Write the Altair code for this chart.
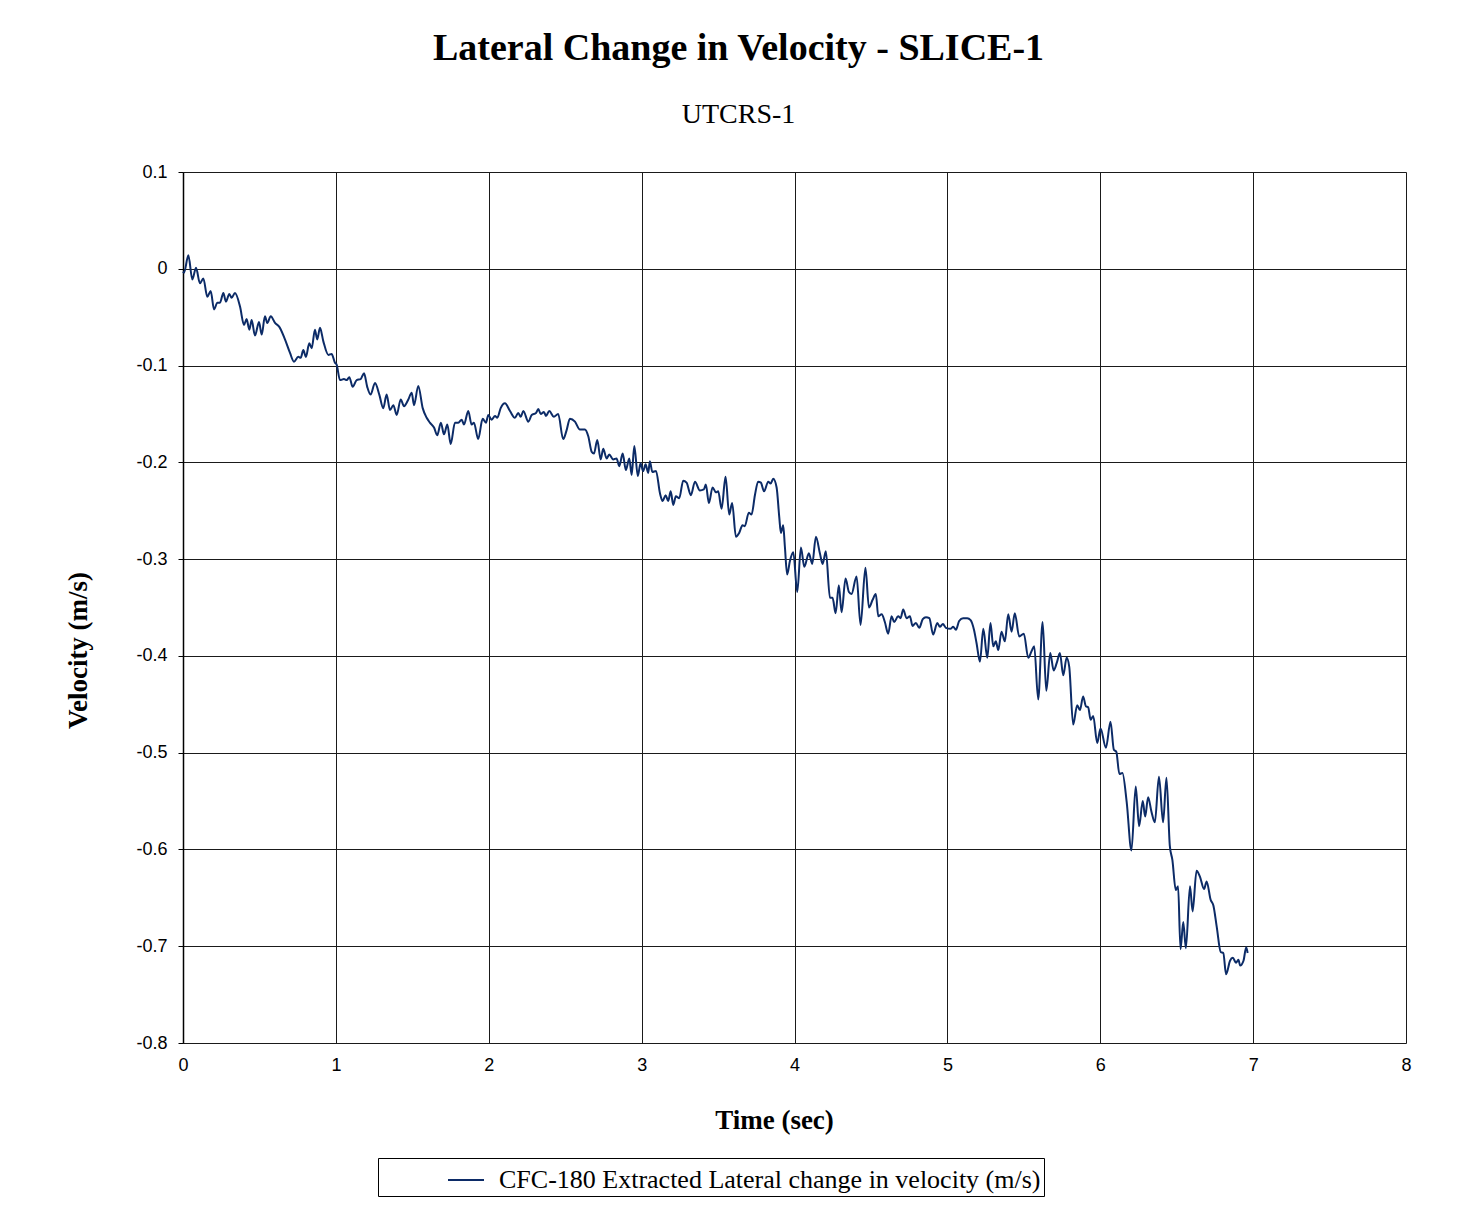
import altair as alt
import pandas as pd

# Time (sec) and lateral velocity change (m/s)
time_s = [
    0.000, 0.007, 0.035, 0.061, 0.085, 0.111, 0.133, 0.159, 0.181, 0.203, 0.225, 0.242, 0.264, 0.281,
    0.303, 0.318, 0.340, 0.373, 0.399, 0.416, 0.434, 0.449, 0.471, 0.497, 0.515, 0.536, 0.551, 0.574,
    0.602, 0.630, 0.667, 0.700, 0.726, 0.754, 0.770, 0.787, 0.804, 0.826, 0.842, 0.863, 0.878, 0.896,
    0.918, 0.951, 0.972, 0.994, 1.005, 1.027, 1.053, 1.071, 1.088, 1.110, 1.136, 1.162, 1.184, 1.205,
    1.227, 1.256, 1.284, 1.310, 1.332, 1.354, 1.376, 1.398, 1.424, 1.446, 1.474, 1.496, 1.511, 1.539,
    1.568, 1.594, 1.615, 1.642, 1.663, 1.687, 1.707, 1.729, 1.751, 1.779, 1.801, 1.823, 1.838, 1.866,
    1.888, 1.903, 1.931, 1.960, 1.982, 1.997, 2.019, 2.041, 2.056, 2.078, 2.106, 2.139, 2.171, 2.193,
    2.209, 2.226, 2.259, 2.281, 2.309, 2.324, 2.340, 2.361, 2.374, 2.396, 2.426, 2.454, 2.487, 2.509,
    2.531, 2.564, 2.596, 2.629, 2.651, 2.673, 2.688, 2.710, 2.732, 2.749, 2.771, 2.788, 2.814, 2.836,
    2.854, 2.876, 2.897, 2.919, 2.935, 2.952, 2.975, 2.993, 3.010, 3.026, 3.043, 3.054, 3.070, 3.094,
    3.120, 3.137, 3.157, 3.174, 3.190, 3.207, 3.224, 3.246, 3.272, 3.294, 3.322, 3.349, 3.381, 3.407,
    3.420, 3.440, 3.464, 3.486, 3.501, 3.523, 3.549, 3.573, 3.592, 3.617, 3.638, 3.660, 3.675, 3.701,
    3.719, 3.741, 3.762, 3.780, 3.801, 3.828, 3.844, 3.861, 3.883, 3.900, 3.911, 3.926, 3.937, 3.952,
    3.970, 3.992, 4.018, 4.042, 4.064, 4.094, 4.116, 4.140, 4.166, 4.184, 4.205, 4.232, 4.249, 4.269,
    4.290, 4.308, 4.334, 4.356, 4.373, 4.406, 4.432, 4.464, 4.487, 4.511, 4.532, 4.548, 4.570, 4.591,
    4.613, 4.635, 4.652, 4.678, 4.694, 4.711, 4.733, 4.755, 4.772, 4.794, 4.816, 4.839, 4.860, 4.882,
    4.907, 4.934, 4.951, 4.971, 4.990, 5.020, 5.038, 5.056, 5.077, 5.103, 5.130, 5.152, 5.174, 5.191,
    5.213, 5.235, 5.261, 5.282, 5.300, 5.317, 5.333, 5.354, 5.376, 5.398, 5.420, 5.441, 5.470, 5.500,
    5.529, 5.551, 5.568, 5.594, 5.623, 5.647, 5.673, 5.695, 5.716, 5.736, 5.758, 5.780, 5.797, 5.823,
    5.849, 5.867, 5.888, 5.906, 5.921, 5.937, 5.954, 5.980, 6.002, 6.037, 6.067, 6.089, 6.105, 6.125,
    6.145, 6.173, 6.204, 6.232, 6.254, 6.278, 6.294, 6.313, 6.335, 6.357, 6.384, 6.411, 6.433, 6.455,
    6.472, 6.494, 6.509, 6.525, 6.543, 6.560, 6.587, 6.604, 6.630, 6.652, 6.679, 6.696, 6.722, 6.740,
    6.762, 6.788, 6.805, 6.823, 6.849, 6.867, 6.888, 6.904, 6.915, 6.937, 6.955, 6.964,
]
velocity = [
    -0.003, -0.004, 0.014, -0.011, 0.001, -0.015, -0.010, -0.029, -0.023, -0.042, -0.035, -0.035, -0.025, -0.034,
    -0.026, -0.030, -0.025, -0.039, -0.058, -0.052, -0.063, -0.053, -0.069, -0.055, -0.068, -0.049, -0.056, -0.049,
    -0.056, -0.060, -0.073, -0.087, -0.096, -0.091, -0.092, -0.084, -0.091, -0.077, -0.082, -0.063, -0.073, -0.061,
    -0.075, -0.089, -0.088, -0.097, -0.099, -0.115, -0.114, -0.115, -0.112, -0.122, -0.115, -0.114, -0.108, -0.122,
    -0.130, -0.118, -0.130, -0.144, -0.130, -0.146, -0.141, -0.151, -0.135, -0.142, -0.135, -0.128, -0.141, -0.121,
    -0.144, -0.154, -0.159, -0.164, -0.172, -0.159, -0.171, -0.161, -0.181, -0.159, -0.159, -0.156, -0.161, -0.147,
    -0.161, -0.159, -0.176, -0.155, -0.159, -0.151, -0.156, -0.152, -0.154, -0.144, -0.139, -0.147, -0.154, -0.149,
    -0.153, -0.147, -0.158, -0.151, -0.149, -0.145, -0.150, -0.148, -0.152, -0.147, -0.153, -0.150, -0.176, -0.167,
    -0.155, -0.158, -0.166, -0.166, -0.173, -0.189, -0.191, -0.177, -0.197, -0.186, -0.196, -0.192, -0.197, -0.196,
    -0.204, -0.191, -0.208, -0.196, -0.213, -0.183, -0.214, -0.201, -0.209, -0.202, -0.211, -0.199, -0.210, -0.209,
    -0.232, -0.240, -0.234, -0.240, -0.230, -0.244, -0.235, -0.237, -0.219, -0.221, -0.234, -0.220, -0.229, -0.228,
    -0.223, -0.242, -0.226, -0.231, -0.230, -0.248, -0.215, -0.254, -0.242, -0.277, -0.273, -0.265, -0.266, -0.252,
    -0.254, -0.234, -0.220, -0.221, -0.230, -0.220, -0.222, -0.217, -0.226, -0.256, -0.273, -0.265, -0.287, -0.316,
    -0.302, -0.293, -0.334, -0.288, -0.308, -0.294, -0.305, -0.277, -0.294, -0.305, -0.292, -0.340, -0.340, -0.356,
    -0.327, -0.355, -0.320, -0.334, -0.336, -0.318, -0.368, -0.309, -0.350, -0.342, -0.336, -0.359, -0.357, -0.365,
    -0.377, -0.359, -0.365, -0.359, -0.361, -0.352, -0.361, -0.359, -0.369, -0.366, -0.371, -0.362, -0.360, -0.361,
    -0.378, -0.366, -0.370, -0.367, -0.371, -0.372, -0.370, -0.373, -0.364, -0.361, -0.361, -0.363, -0.373, -0.387,
    -0.406, -0.372, -0.402, -0.366, -0.390, -0.385, -0.394, -0.375, -0.385, -0.357, -0.375, -0.356, -0.380, -0.377,
    -0.402, -0.395, -0.390, -0.445, -0.365, -0.436, -0.397, -0.415, -0.407, -0.397, -0.420, -0.402, -0.411, -0.471,
    -0.451, -0.456, -0.442, -0.452, -0.453, -0.466, -0.462, -0.490, -0.475, -0.495, -0.468, -0.497, -0.499, -0.522,
    -0.521, -0.551, -0.601, -0.535, -0.576, -0.550, -0.566, -0.546, -0.561, -0.572, -0.525, -0.572, -0.526, -0.596,
    -0.611, -0.642, -0.638, -0.703, -0.675, -0.702, -0.638, -0.664, -0.622, -0.628, -0.641, -0.633, -0.652, -0.658,
    -0.680, -0.706, -0.707, -0.729, -0.715, -0.712, -0.717, -0.714, -0.720, -0.715, -0.701, -0.707,
]
series_name = "CFC-180 Extracted Lateral change in velocity (m/s)"
x_ticks = [0, 1, 2, 3, 4, 5, 6, 7, 8]
y_ticks = [0.1, 0, -0.1, -0.2, -0.3, -0.4, -0.5, -0.6, -0.7, -0.8]

df = pd.DataFrame({"t": time_s, "v": velocity, "series": [series_name] * len(time_s)})

SERIF = "Liberation Serif"
SANS = "Liberation Sans"

chart = (
    alt.Chart(df)
    .mark_line(strokeWidth=2, interpolate="monotone")
    .encode(
        x=alt.X(
            "t:Q",
            scale=alt.Scale(domain=[0, 8], nice=False, zero=False),
            axis=alt.Axis(
                title="Time (sec)",
                values=x_ticks,
                labelExpr="'' + datum.value",
                labelFont=SANS,
                labelFontSize=18,
                labelColor="black",
                labelPadding=13,
                labelFlush=False,
                ticks=False,
                domain=False,
                grid=True,
                gridColor="#1a1a1a",
                gridWidth=1,
                gridOpacity=1,
                titleFont=SERIF,
                titleFontSize=27,
                titleFontWeight="bold",
                titleColor="black",
                titleX=591,
                titleY=77,
                titleBaseline="middle",
                titleAlign="center",
            ),
        ),
        y=alt.Y(
            "v:Q",
            scale=alt.Scale(domain=[-0.8, 0.1], nice=False, zero=False),
            axis=alt.Axis(
                title="Velocity (m/s)",
                values=y_ticks,
                labelExpr="'' + datum.value",
                labelFont=SANS,
                labelFontSize=18,
                labelColor="black",
                labelPadding=11,
                labelFlush=False,
                tickSize=5,
                tickColor="black",
                domain=True,
                domainColor="black",
                domainWidth=1.5,
                grid=True,
                gridColor="#1a1a1a",
                gridWidth=1,
                gridOpacity=1,
                titleFont=SERIF,
                titleFontSize=27,
                titleFontWeight="bold",
                titleColor="black",
                titleX=-105,
                titleY=478,
                titleBaseline="middle",
                titleAlign="center",
                titleAngle=270,
            ),
        ),
        color=alt.Color(
            "series:N",
            scale=alt.Scale(domain=[series_name], range=["#0c2b67"]),
            legend=alt.Legend(
                title=None,
                orient="none",
                legendX=195,
                legendY=986,
                symbolType="stroke",
                symbolSize=1296,
                symbolStrokeWidth=2,
                symbolOffset=66,
                labelFont=SERIF,
                labelFontSize=26,
                labelColor="black",
                labelOffset=14,
                labelLimit=900,
                padding=3,
                strokeColor="black",
            ),
        ),
    )
    .properties(
        width=1223,
        height=871,
        autosize=alt.AutoSizeParams(type="none"),
        padding={"left": 175, "top": 164, "right": 45, "bottom": 157},
        title=alt.TitleParams(
            text="Lateral Change in Velocity - SLICE-1",
            subtitle="UTCRS-1",
            font=SERIF,
            fontSize=38,
            fontWeight="bold",
            color="black",
            subtitleFont=SERIF,
            subtitleFontSize=28,
            subtitleColor="black",
            subtitlePadding=33,
            anchor="middle",
            dx=-56,
            offset=34,
        ),
    )
    .configure_view(stroke="#808080", strokeWidth=2)
    .configure(background="white")
)

chart.save("out.html", embed_options={"renderer": "svg", "actions": False})
